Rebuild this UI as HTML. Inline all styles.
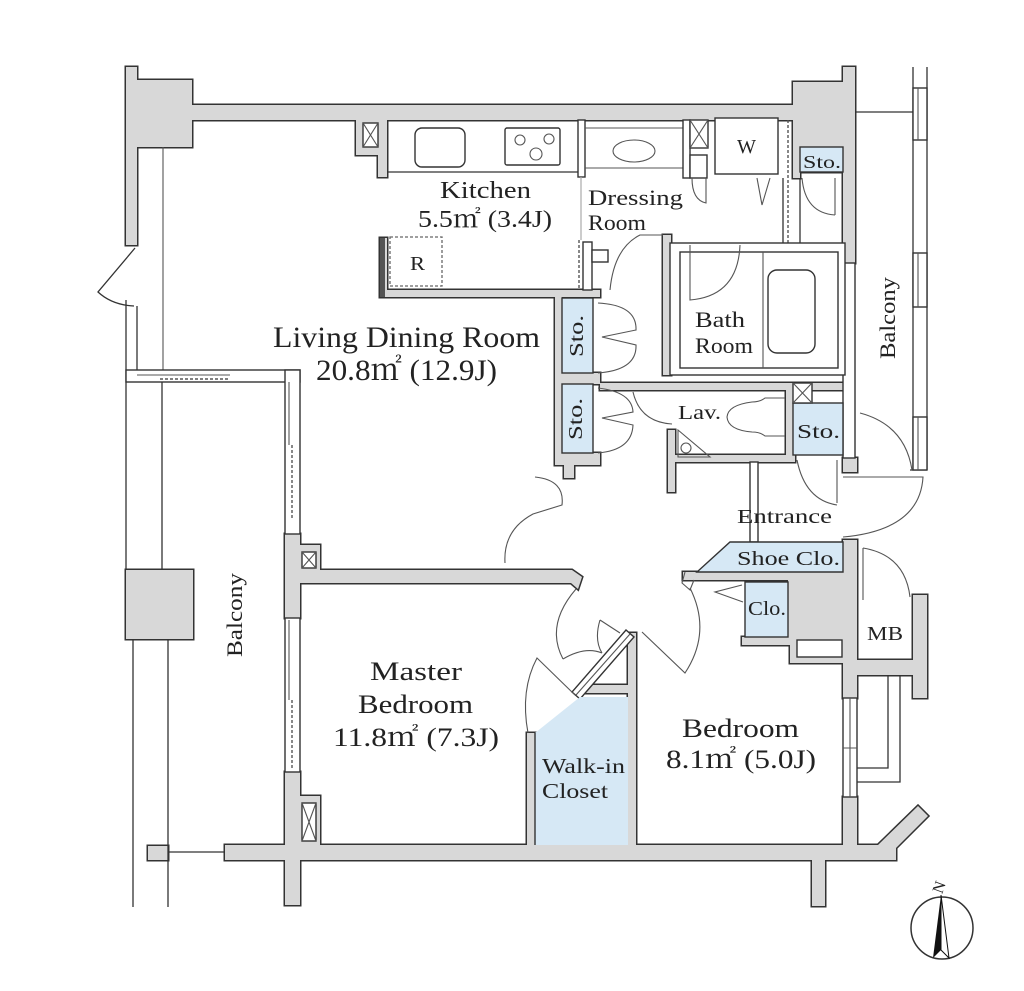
<!DOCTYPE html>
<html><head><meta charset="utf-8">
<style>
html,body{margin:0;padding:0;background:#fff;width:1024px;height:991px;overflow:hidden}
svg{display:block}
.o{fill:#fff;stroke:#333;stroke-width:1.4}
.l{fill:none;stroke:#333;stroke-width:1.3}
.s{fill:none;stroke:#555;stroke-width:1.1}
.b{fill:#d6e8f5;stroke:#333;stroke-width:1.4}
.g{fill:#d8d8d8;stroke:#333;stroke-width:1.4}
.d{fill:none;stroke:#555;stroke-width:1.4;stroke-dasharray:3 2}
.lt{fill:none;stroke:#aaa;stroke-width:1.2}
text{font-family:"Liberation Serif","Noto Serif CJK JP",serif;fill:#222}
</style></head><body>
<svg xmlns="http://www.w3.org/2000/svg" width="1024" height="991" viewBox="0 0 1024 991">
<defs>
<g id="walls">
<path d="M126,67H137V80H192V105H793V82H843V67H855V263H843V172H800V178H793V120H387V177H378V155H356V120H192V147H137V245H126Z"/>
<path d="M285,534H300V545H320V570H572L582,577L578,589L571,583H300V618H285Z"/>
<path d="M285,772H300V796H320V845H843V797H857V845H878L918,806L928,816L896,848V860H825V906H812V860H300V905H285V860H225V845H285Z"/>
<rect x="843" y="540" width="14" height="158"/>
<path d="M857,660H913V595H927V698H913V675H857Z"/>
<path d="M788,580H843V663H790V645H742V637H788Z"/>
<rect x="683" y="572" width="160" height="8"/>
<rect x="628" y="633" width="8" height="212"/>
<rect x="527" y="733" width="8" height="112"/>
<rect x="582" y="685" width="46" height="8"/>
<rect x="555" y="295" width="7" height="170"/>
<rect x="555" y="373" width="45" height="11"/>
<rect x="555" y="453" width="45" height="12"/>
<rect x="564" y="465" width="10" height="13"/>
<path d="M380,238H387V290H600V297H380Z"/>
<rect x="663" y="235" width="8" height="140"/>
<rect x="600" y="383" width="245" height="7"/>
<rect x="668" y="430" width="7" height="62"/>
<rect x="675" y="455" width="120" height="7"/>
<rect x="786" y="383" width="7" height="78"/>
<rect x="843" y="458" width="14" height="14"/>
<rect x="126" y="570" width="67" height="69"/>
<rect x="148" y="846" width="20" height="14"/>
</g>
</defs>
<use href="#walls" fill="#333" stroke="#333" stroke-width="3"/>
<use href="#walls" fill="#d8d8d8"/>

<!-- dark kitchen edge -->
<rect x="380" y="238" width="5" height="59" fill="#555"/>

<!-- left side -->
<path class="s" d="M163,147V370"/>
<path class="l" d="M126,300V570M137,306V370"/>
<path class="l" d="M135,248L98,292Q112,305 134,306"/>
<rect class="o" x="126" y="370" width="174" height="12"/>
<path class="s" d="M137,375H230"/>
<path class="d" d="M160,379H228"/>
<rect class="o" x="285" y="370" width="15" height="164"/>
<path class="s" d="M289,382V445"/>
<path class="d" d="M292,445V520"/>
<rect class="o" x="285" y="618" width="15" height="154"/>
<path class="s" d="M289,620V700"/>
<path class="d" d="M292,700V768"/>
<path class="l" d="M162,382V570M133,639V907M168,639V907"/>
<path class="l" d="M168,852H225"/>
<!-- X boxes -->
<rect class="o" x="363" y="123" width="15" height="24"/><path class="s" d="M363,123L378,147M378,123L363,147"/>
<rect class="o" x="302" y="552" width="14" height="16"/><path class="s" d="M302,552L316,568M316,552L302,568"/>
<rect class="o" x="302" y="803" width="14" height="38"/><path class="s" d="M302,803L316,841M316,803L302,841"/>

<!-- kitchen -->
<path class="l" d="M387,172H578"/>
<rect class="o" x="415" y="128" width="50" height="39" rx="7"/>
<rect class="o" x="505" y="128" width="55" height="37" rx="2"/>
<circle class="s" cx="520" cy="140" r="5"/><circle class="s" cx="549" cy="139" r="5"/><circle class="s" cx="536" cy="154" r="6"/>
<rect x="390" y="237" width="52" height="49" fill="none" stroke="#666" stroke-width="1.3" stroke-dasharray="3 2"/>
<rect class="o" x="578" y="120" width="7" height="57"/>
<path class="lt" d="M581,177V240"/>
<path class="d" d="M579,240V290"/>
<rect class="o" x="583" y="242" width="9" height="48"/>
<rect class="o" x="592" y="250" width="16" height="12"/>

<!-- dressing -->
<path class="s" d="M585,128H683M585,168H683"/>
<ellipse class="s" cx="634" cy="151" rx="21" ry="11"/>
<rect class="o" x="683" y="120" width="7" height="58"/>
<rect class="o" x="690" y="120" width="18" height="28"/><path class="s" d="M690,120L708,148M708,120L690,148"/>
<rect class="o" x="690" y="155" width="17" height="23"/>
<path class="s" d="M692,178Q692,200 706,203V178"/>
<rect class="o" x="715" y="118" width="63" height="56"/>
<path class="s" d="M757,178L762,205L770,178"/>
<path class="l" d="M783,178V243"/>
<path class="d" d="M788,120V243"/>
<path class="l" d="M800,178V243"/>
<rect class="b" x="800" y="147" width="43" height="25"/>
<path class="s" d="M835,178V215M802,178Q805,213 835,215"/>
<path class="s" d="M663,235H640Q614,248 610,290"/>

<!-- right balcony -->
<path class="l" d="M855,112H913M913,67V470M927,67V470M910,470H927"/>
<rect class="o" x="913" y="88" width="14" height="52"/><path class="s" d="M918,88V140"/>
<rect class="o" x="913" y="253" width="14" height="54"/><path class="s" d="M918,253V307"/>
<rect class="o" x="913" y="417" width="14" height="53"/><path class="s" d="M918,417V470"/>
<rect class="o" x="843" y="263" width="12" height="195"/>

<!-- bath -->
<rect class="o" x="670" y="243" width="175" height="132"/>
<rect class="o" x="680" y="252" width="158" height="116"/>
<path class="s" d="M763,252V368"/>
<rect class="o" x="768" y="270" width="47" height="83" rx="9"/>
<path class="s" d="M690,245V300Q738,296 740,245"/>

<!-- sto columns -->
<rect class="b" x="562" y="298" width="31" height="75"/>
<rect class="b" x="562" y="384" width="31" height="69"/>
<path class="s" d="M598,303Q637,305 636,330L602,337L636,345Q637,370 598,373"/>
<path class="s" d="M598,388Q632,392 633,412L602,418L633,425Q632,450 598,453"/>

<!-- lav -->
<path class="s" d="M633,392Q640,422 672,424"/>
<path class="s" d="M785,398H765Q760,402 752,402Q728,405 727,417Q728,430 752,432Q760,432 765,436H785"/>
<path class="s" d="M678,430V457H710Z"/>
<circle class="s" cx="686" cy="448" r="5"/>
<rect class="b" x="793" y="403" width="50" height="52"/>
<rect class="o" x="793" y="383" width="19" height="20"/><path class="s" d="M793,383L812,403M812,383L793,403"/>
<path class="s" d="M837,460V503M797,460Q805,500 837,505"/>

<!-- entrance -->
<rect class="o" x="750" y="462" width="8" height="80"/>
<path class="s" d="M860,413Q905,425 912,470"/>
<path class="s" d="M843,477H923Q920,530 843,537"/>
<path class="b" d="M730,542H843V572H697Z"/>
<rect class="b" x="745" y="582" width="43" height="55"/>
<path class="s" d="M742,585L715,592L743,602"/>
<rect class="o" x="797" y="640" width="45" height="17"/>
<path class="s" d="M685,572L682,583L690,590L694,580"/>

<!-- MB -->
<path class="s" d="M863,548V600M863,548Q905,555 910,597"/>
<path class="l" d="M888,675V768H857M900,675V782H857"/>
<rect class="o" x="843" y="698" width="14" height="99"/>
<path class="s" d="M850,698V797M843,748H857"/>

<!-- central doors -->
<path class="s" d="M535,477Q565,480 562,505L533,514Q503,530 505,563"/>
<path class="s" d="M576,589Q545,625 563,659"/>
<path class="s" d="M563,659Q585,646 602,653M600,620Q594,640 602,653M600,620L620,633"/>
<path class="o" d="M572,692L580,699L634,637L626,630Z"/>
<path class="s" d="M576,695L630,634"/>
<path class="s" d="M575,695L537,658Q520,690 528,733"/>
<path class="s" d="M642,632L685,673Q712,632 690,588"/>

<!-- walk-in closet -->
<path d="M535,733L580,697H628V845H535Z" fill="#d6e8f5"/>
<path d="M535,733V845" stroke="#333" stroke-width="1.4"/>

<!-- compass -->
<circle cx="942" cy="928" r="31" fill="none" stroke="#333" stroke-width="1.5"/>
<polygon points="941,895 933,958 941,950" fill="#111"/>
<polygon points="941,895 949,958 941,950" fill="#fff" stroke="#111" stroke-width="1"/>
<text x="934" y="893" font-size="16" transform="rotate(-70 939 888)">N</text>

<!-- labels -->
<text x="273" y="347" font-size="30" textLength="267" lengthAdjust="spacingAndGlyphs">Living Dining Room</text>
<text x="316" y="380" font-size="30" textLength="181" lengthAdjust="spacingAndGlyphs">20.8㎡ (12.9J)</text>
<text x="440" y="198" font-size="24" textLength="91" lengthAdjust="spacingAndGlyphs">Kitchen</text>
<text x="418" y="227" font-size="24" textLength="134" lengthAdjust="spacingAndGlyphs">5.5㎡ (3.4J)</text>
<text x="410" y="270" font-size="20" textLength="15" lengthAdjust="spacingAndGlyphs">R</text>
<text x="588" y="205" font-size="22" textLength="95" lengthAdjust="spacingAndGlyphs">Dressing</text>
<text x="588" y="230" font-size="22" textLength="58" lengthAdjust="spacingAndGlyphs">Room</text>
<text x="737" y="153" font-size="20" textLength="19" lengthAdjust="spacingAndGlyphs">W</text>
<text x="803" y="168" font-size="18" textLength="38" lengthAdjust="spacingAndGlyphs">Sto.</text>
<text x="695" y="327" font-size="22" textLength="50" lengthAdjust="spacingAndGlyphs">Bath</text>
<text x="695" y="353" font-size="22" textLength="58" lengthAdjust="spacingAndGlyphs">Room</text>
<text x="678" y="419" font-size="20" textLength="43" lengthAdjust="spacingAndGlyphs">Lav.</text>
<text x="797" y="438" font-size="20" textLength="43" lengthAdjust="spacingAndGlyphs">Sto.</text>
<text x="737" y="523" font-size="20" textLength="95" lengthAdjust="spacingAndGlyphs">Entrance</text>
<text x="737" y="565" font-size="20" textLength="103" lengthAdjust="spacingAndGlyphs">Shoe Clo.</text>
<text x="748" y="615" font-size="20" textLength="38" lengthAdjust="spacingAndGlyphs">Clo.</text>
<text x="867" y="640" font-size="20" textLength="36" lengthAdjust="spacingAndGlyphs">MB</text>
<text x="370" y="680" font-size="26" textLength="92" lengthAdjust="spacingAndGlyphs">Master</text>
<text x="358" y="713" font-size="26" textLength="115" lengthAdjust="spacingAndGlyphs">Bedroom</text>
<text x="333" y="746" font-size="26" textLength="166" lengthAdjust="spacingAndGlyphs">11.8㎡ (7.3J)</text>
<text x="682" y="737" font-size="26" textLength="117" lengthAdjust="spacingAndGlyphs">Bedroom</text>
<text x="666" y="768" font-size="26" textLength="150" lengthAdjust="spacingAndGlyphs">8.1㎡ (5.0J)</text>
<text x="542" y="773" font-size="21" textLength="83" lengthAdjust="spacingAndGlyphs">Walk-in</text>
<text x="542" y="798" font-size="21" textLength="66" lengthAdjust="spacingAndGlyphs">Closet</text>
<text x="235" y="622" font-size="22" text-anchor="middle" textLength="84" lengthAdjust="spacingAndGlyphs" transform="rotate(-90 235 615)">Balcony</text>
<text x="888" y="325" font-size="22" text-anchor="middle" textLength="82" lengthAdjust="spacingAndGlyphs" transform="rotate(-90 888 318)">Balcony</text>
<text x="576" y="343" font-size="20" text-anchor="middle" textLength="42" lengthAdjust="spacingAndGlyphs" transform="rotate(-90 576 336)">Sto.</text>
<text x="575" y="426" font-size="20" text-anchor="middle" textLength="42" lengthAdjust="spacingAndGlyphs" transform="rotate(-90 575 419)">Sto.</text>
</svg>
</body></html>
